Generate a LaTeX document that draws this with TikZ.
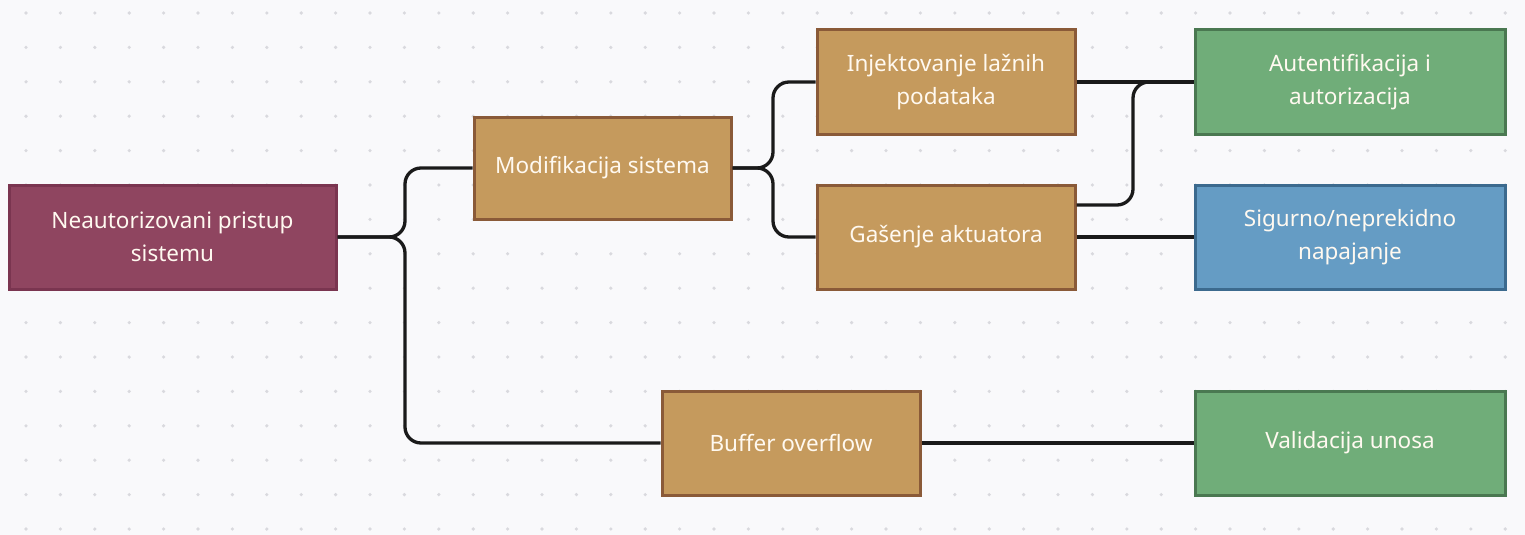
\documentclass[tikz,border=0pt]{standalone}
\usepackage{fontspec}
\setmainfont{Noto Sans}
\definecolor{bgc}{HTML}{F9F9FB}
\definecolor{dotc}{HTML}{D9D9DE}
\definecolor{rootf}{HTML}{8F4560}
\definecolor{rootd}{HTML}{7A3550}
\definecolor{tanf}{HTML}{C59A5D}
\definecolor{tand}{HTML}{8A5A38}
\definecolor{grnf}{HTML}{70AD79}
\definecolor{grnd}{HTML}{4A7851}
\definecolor{bluf}{HTML}{659CC4}
\definecolor{blud}{HTML}{3C6A8E}
\definecolor{txtc}{HTML}{FFF9F0}
\definecolor{linec}{HTML}{1A1A1A}
\tikzset{
  box/.style={rectangle, draw, line width=3pt, inner sep=0pt, align=center,
    text=txtc, font=\fontsize{22.5}{33}\selectfont},
  rootbox/.style={box, fill=rootf, draw=rootd, minimum width=327pt, minimum height=104pt},
  tanbox/.style={box, fill=tanf, draw=tand, minimum width=258pt, minimum height=104pt},
  tanboxs/.style={box, fill=tanf, draw=tand, minimum width=257pt, minimum height=102pt},
  grnbox/.style={box, fill=grnf, draw=grnd, minimum width=310pt, minimum height=104pt},
  blubox/.style={box, fill=bluf, draw=blud, minimum width=310pt, minimum height=104pt},
  conn/.style={draw=linec, line width=3.3pt, rounded corners=16pt},
}
\begin{document}
\begin{tikzpicture}[x=1pt,y=-1pt]
\fill[bgc] (0,0) rectangle (1525,535);
\useasboundingbox (0,0) rectangle (1525,535);
\foreach \i in {0,...,43}{
  \foreach \j in {0,...,15}{
    \fill[dotc] (26+34.4*\i,13+34.4*\j) circle (1.8pt);
  }
}
\node[rootbox] (root) at (172.5,237) {Neautorizovani pristup\\sistemu};
\node[tanboxs] (mod) at (602.5,168) {Modifikacija sistema};
\node[tanbox] (inj) at (946,82) {Injektovanje lažnih\\podataka};
\node[tanbox] (gas) at (946,237) {Gašenje aktuatora};
\node[tanbox] (buf) at (791,443) {Buffer overflow};
\node[grnbox] (aut) at (1350,82) {Autentifikacija i\\autorizacija};
\node[blubox] (sig) at (1350,237) {Sigurno/neprekidno\\napajanje};
\node[grnbox] (val) at (1350,443) {Validacija unosa};

\coordinate (j1) at (405,237);
\coordinate (j2) at (773,168);
\coordinate (j3) at (1133,205);

\draw[conn] (root.east) -- (j1) |- (mod.west);
\draw[conn] (root.east) -- (j1) |- (buf.west);
\draw[conn] (mod.east) -- (j2) |- (inj.west);
\draw[conn] (mod.east) -- (j2) |- (gas.west);
\draw[conn] (inj.east) -- (aut.west);
\draw[conn] ([yshift=32pt]gas.east) -- (j3) |- (aut.west);
\draw[conn] (gas.east) -- (sig.west);
\draw[conn] (buf.east) -- (val.west);
\end{tikzpicture}
\end{document}
